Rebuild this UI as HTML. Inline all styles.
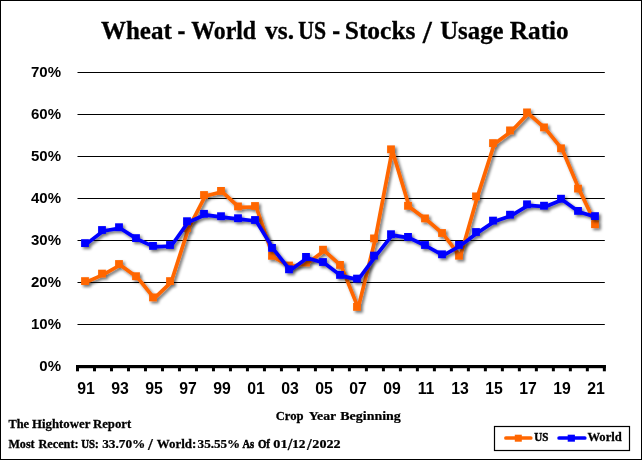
<!DOCTYPE html>
<html><head><meta charset="utf-8"><title>Wheat - World vs. US - Stocks / Usage Ratio</title>
<style>
html,body{margin:0;padding:0;background:#fff;}
svg{display:block;}
.ti{font-family:"Liberation Serif",serif;font-weight:bold;font-size:23.6px;fill:#000;stroke:#000;vector-effect:non-scaling-stroke;}
.ax{font-family:"Liberation Sans",sans-serif;font-weight:bold;font-size:15px;fill:#000;}
.sm{font-family:"Liberation Serif",serif;font-weight:bold;font-size:12.6px;fill:#000;stroke:#000;vector-effect:non-scaling-stroke;}
</style></head><body>
<svg width="642" height="460" viewBox="0 0 642 460">
<defs><filter id="sh" x="-5%" y="-5%" width="110%" height="115%"><feGaussianBlur in="SourceAlpha" stdDeviation="1.4"/><feOffset dx="2.4" dy="2.4" result="b"/><feComponentTransfer><feFuncA type="linear" slope="0.55"/></feComponentTransfer><feMerge><feMergeNode/><feMergeNode in="SourceGraphic"/></feMerge></filter></defs>
<rect x="0" y="0" width="642" height="460" fill="#fff"/>
<rect x="0.5" y="0.5" width="641" height="459" fill="none" stroke="#000" stroke-width="1"/>
<line x1="77.5" y1="72.5" x2="604.8" y2="72.5" stroke="#000" stroke-width="1"/><line x1="77.5" y1="114.5" x2="604.8" y2="114.5" stroke="#000" stroke-width="1"/><line x1="77.5" y1="156.5" x2="604.8" y2="156.5" stroke="#000" stroke-width="1"/><line x1="77.5" y1="198.5" x2="604.8" y2="198.5" stroke="#000" stroke-width="1"/><line x1="77.5" y1="240.5" x2="604.8" y2="240.5" stroke="#000" stroke-width="1"/><line x1="77.5" y1="282.5" x2="604.8" y2="282.5" stroke="#000" stroke-width="1"/><line x1="77.5" y1="324.5" x2="604.8" y2="324.5" stroke="#000" stroke-width="1"/>
<text x="61" y="77.0" text-anchor="end" class="ax">70%</text><text x="61" y="119.0" text-anchor="end" class="ax">60%</text><text x="61" y="161.0" text-anchor="end" class="ax">50%</text><text x="61" y="203.0" text-anchor="end" class="ax">40%</text><text x="61" y="245.0" text-anchor="end" class="ax">30%</text><text x="61" y="287.0" text-anchor="end" class="ax">20%</text><text x="61" y="329.0" text-anchor="end" class="ax">10%</text><text x="61" y="371.0" text-anchor="end" class="ax">0%</text>
<g filter="url(#sh)"><polyline points="86.2,282.1 103.2,274.6 120.2,265.0 137.2,277.2 154.2,298.4 171.2,282.1 188.2,229.1 205.2,196.0 222.2,191.9 239.2,207.4 256.2,207.0 273.2,256.8 290.2,266.5 307.2,263.5 324.2,250.7 341.2,265.9 358.2,307.9 375.2,239.4 392.2,150.3 409.2,206.8 426.2,219.4 443.2,234.0 460.2,256.7 477.2,197.4 494.2,144.1 511.2,131.4 528.2,113.4 545.2,128.4 562.2,149.3 579.2,189.6 596.2,225.2" fill="none" stroke="#FF6600" stroke-width="3.7" stroke-linejoin="round" stroke-linecap="round"/><rect x="81.1" y="277.2" width="7.8" height="7.8" fill="#FF6600"/><rect x="98.1" y="269.7" width="7.8" height="7.8" fill="#FF6600"/><rect x="115.1" y="260.1" width="7.8" height="7.8" fill="#FF6600"/><rect x="132.1" y="272.3" width="7.8" height="7.8" fill="#FF6600"/><rect x="149.1" y="293.5" width="7.8" height="7.8" fill="#FF6600"/><rect x="166.1" y="277.2" width="7.8" height="7.8" fill="#FF6600"/><rect x="183.1" y="224.2" width="7.8" height="7.8" fill="#FF6600"/><rect x="200.1" y="191.1" width="7.8" height="7.8" fill="#FF6600"/><rect x="217.1" y="187.0" width="7.8" height="7.8" fill="#FF6600"/><rect x="234.1" y="202.5" width="7.8" height="7.8" fill="#FF6600"/><rect x="251.1" y="202.1" width="7.8" height="7.8" fill="#FF6600"/><rect x="268.1" y="251.9" width="7.8" height="7.8" fill="#FF6600"/><rect x="285.1" y="261.6" width="7.8" height="7.8" fill="#FF6600"/><rect x="302.1" y="258.6" width="7.8" height="7.8" fill="#FF6600"/><rect x="319.1" y="245.8" width="7.8" height="7.8" fill="#FF6600"/><rect x="336.1" y="261.0" width="7.8" height="7.8" fill="#FF6600"/><rect x="353.1" y="303.0" width="7.8" height="7.8" fill="#FF6600"/><rect x="370.1" y="234.5" width="7.8" height="7.8" fill="#FF6600"/><rect x="387.1" y="145.4" width="7.8" height="7.8" fill="#FF6600"/><rect x="404.1" y="201.9" width="7.8" height="7.8" fill="#FF6600"/><rect x="421.1" y="214.5" width="7.8" height="7.8" fill="#FF6600"/><rect x="438.1" y="229.1" width="7.8" height="7.8" fill="#FF6600"/><rect x="455.1" y="251.8" width="7.8" height="7.8" fill="#FF6600"/><rect x="472.1" y="192.5" width="7.8" height="7.8" fill="#FF6600"/><rect x="489.1" y="139.2" width="7.8" height="7.8" fill="#FF6600"/><rect x="506.1" y="126.5" width="7.8" height="7.8" fill="#FF6600"/><rect x="523.1" y="108.5" width="7.8" height="7.8" fill="#FF6600"/><rect x="540.1" y="123.5" width="7.8" height="7.8" fill="#FF6600"/><rect x="557.1" y="144.4" width="7.8" height="7.8" fill="#FF6600"/><rect x="574.1" y="184.7" width="7.8" height="7.8" fill="#FF6600"/><rect x="591.1" y="220.3" width="7.8" height="7.8" fill="#FF6600"/></g>

<g filter="url(#sh)"><polyline points="86.2,244.1 103.2,231.0 120.2,228.2 137.2,239.1 154.2,246.9 171.2,246.0 188.2,222.2 205.2,214.8 222.2,217.2 239.2,219.2 256.2,221.0 273.2,248.9 290.2,270.3 307.2,257.9 324.2,263.0 341.2,275.9 358.2,279.6 375.2,256.6 392.2,235.2 409.2,237.9 426.2,246.0 443.2,255.3 460.2,245.9 477.2,233.0 494.2,221.6 511.2,215.7 528.2,205.3 545.2,206.7 562.2,199.7 579.2,211.9 596.2,217.1" fill="none" stroke="#0000FF" stroke-width="3.7" stroke-linejoin="round" stroke-linecap="round"/><rect x="81.1" y="239.2" width="7.8" height="7.8" fill="#0000FF"/><rect x="98.1" y="226.1" width="7.8" height="7.8" fill="#0000FF"/><rect x="115.1" y="223.3" width="7.8" height="7.8" fill="#0000FF"/><rect x="132.1" y="234.2" width="7.8" height="7.8" fill="#0000FF"/><rect x="149.1" y="242.0" width="7.8" height="7.8" fill="#0000FF"/><rect x="166.1" y="241.1" width="7.8" height="7.8" fill="#0000FF"/><rect x="183.1" y="217.3" width="7.8" height="7.8" fill="#0000FF"/><rect x="200.1" y="209.9" width="7.8" height="7.8" fill="#0000FF"/><rect x="217.1" y="212.3" width="7.8" height="7.8" fill="#0000FF"/><rect x="234.1" y="214.3" width="7.8" height="7.8" fill="#0000FF"/><rect x="251.1" y="216.1" width="7.8" height="7.8" fill="#0000FF"/><rect x="268.1" y="244.0" width="7.8" height="7.8" fill="#0000FF"/><rect x="285.1" y="265.4" width="7.8" height="7.8" fill="#0000FF"/><rect x="302.1" y="253.0" width="7.8" height="7.8" fill="#0000FF"/><rect x="319.1" y="258.1" width="7.8" height="7.8" fill="#0000FF"/><rect x="336.1" y="271.0" width="7.8" height="7.8" fill="#0000FF"/><rect x="353.1" y="274.7" width="7.8" height="7.8" fill="#0000FF"/><rect x="370.1" y="251.7" width="7.8" height="7.8" fill="#0000FF"/><rect x="387.1" y="230.3" width="7.8" height="7.8" fill="#0000FF"/><rect x="404.1" y="233.0" width="7.8" height="7.8" fill="#0000FF"/><rect x="421.1" y="241.1" width="7.8" height="7.8" fill="#0000FF"/><rect x="438.1" y="250.4" width="7.8" height="7.8" fill="#0000FF"/><rect x="455.1" y="241.0" width="7.8" height="7.8" fill="#0000FF"/><rect x="472.1" y="228.1" width="7.8" height="7.8" fill="#0000FF"/><rect x="489.1" y="216.7" width="7.8" height="7.8" fill="#0000FF"/><rect x="506.1" y="210.8" width="7.8" height="7.8" fill="#0000FF"/><rect x="523.1" y="200.4" width="7.8" height="7.8" fill="#0000FF"/><rect x="540.1" y="201.8" width="7.8" height="7.8" fill="#0000FF"/><rect x="557.1" y="194.8" width="7.8" height="7.8" fill="#0000FF"/><rect x="574.1" y="207.0" width="7.8" height="7.8" fill="#0000FF"/><rect x="591.1" y="212.2" width="7.8" height="7.8" fill="#0000FF"/></g>

<rect x="76" y="365" width="529.8" height="3.2" fill="#000"/>
<rect x="76.00" y="365" width="3" height="6.3" fill="#000"/><rect x="93.00" y="365" width="3" height="6.3" fill="#000"/><rect x="109.99" y="365" width="3" height="6.3" fill="#000"/><rect x="126.99" y="365" width="3" height="6.3" fill="#000"/><rect x="143.98" y="365" width="3" height="6.3" fill="#000"/><rect x="160.98" y="365" width="3" height="6.3" fill="#000"/><rect x="177.97" y="365" width="3" height="6.3" fill="#000"/><rect x="194.97" y="365" width="3" height="6.3" fill="#000"/><rect x="211.96" y="365" width="3" height="6.3" fill="#000"/><rect x="228.96" y="365" width="3" height="6.3" fill="#000"/><rect x="245.95" y="365" width="3" height="6.3" fill="#000"/><rect x="262.95" y="365" width="3" height="6.3" fill="#000"/><rect x="279.94" y="365" width="3" height="6.3" fill="#000"/><rect x="296.94" y="365" width="3" height="6.3" fill="#000"/><rect x="313.93" y="365" width="3" height="6.3" fill="#000"/><rect x="330.93" y="365" width="3" height="6.3" fill="#000"/><rect x="347.92" y="365" width="3" height="6.3" fill="#000"/><rect x="364.92" y="365" width="3" height="6.3" fill="#000"/><rect x="381.91" y="365" width="3" height="6.3" fill="#000"/><rect x="398.91" y="365" width="3" height="6.3" fill="#000"/><rect x="415.90" y="365" width="3" height="6.3" fill="#000"/><rect x="432.90" y="365" width="3" height="6.3" fill="#000"/><rect x="449.89" y="365" width="3" height="6.3" fill="#000"/><rect x="466.89" y="365" width="3" height="6.3" fill="#000"/><rect x="483.88" y="365" width="3" height="6.3" fill="#000"/><rect x="500.88" y="365" width="3" height="6.3" fill="#000"/><rect x="517.87" y="365" width="3" height="6.3" fill="#000"/><rect x="534.87" y="365" width="3" height="6.3" fill="#000"/><rect x="551.86" y="365" width="3" height="6.3" fill="#000"/><rect x="568.86" y="365" width="3" height="6.3" fill="#000"/><rect x="585.85" y="365" width="3" height="6.3" fill="#000"/><rect x="602.85" y="365" width="3" height="6.3" fill="#000"/>
<text x="86.0" y="393.6" text-anchor="middle" class="ax" style="font-size:15.8px">91</text><text x="120.0" y="393.6" text-anchor="middle" class="ax" style="font-size:15.8px">93</text><text x="154.0" y="393.6" text-anchor="middle" class="ax" style="font-size:15.8px">95</text><text x="188.0" y="393.6" text-anchor="middle" class="ax" style="font-size:15.8px">97</text><text x="222.0" y="393.6" text-anchor="middle" class="ax" style="font-size:15.8px">99</text><text x="256.0" y="393.6" text-anchor="middle" class="ax" style="font-size:15.8px">01</text><text x="290.0" y="393.6" text-anchor="middle" class="ax" style="font-size:15.8px">03</text><text x="324.0" y="393.6" text-anchor="middle" class="ax" style="font-size:15.8px">05</text><text x="358.0" y="393.6" text-anchor="middle" class="ax" style="font-size:15.8px">07</text><text x="392.0" y="393.6" text-anchor="middle" class="ax" style="font-size:15.8px">09</text><text x="426.0" y="393.6" text-anchor="middle" class="ax" style="font-size:15.8px">11</text><text x="460.0" y="393.6" text-anchor="middle" class="ax" style="font-size:15.8px">13</text><text x="494.0" y="393.6" text-anchor="middle" class="ax" style="font-size:15.8px">15</text><text x="528.0" y="393.6" text-anchor="middle" class="ax" style="font-size:15.8px">17</text><text x="562.0" y="393.6" text-anchor="middle" class="ax" style="font-size:15.8px">19</text><text x="596.0" y="393.6" text-anchor="middle" class="ax" style="font-size:15.8px">21</text>
<rect x="494.5" y="426.5" width="135" height="24" fill="#fff" stroke="#000" stroke-width="1.2"/>
<line x1="505.9" y1="438" x2="530.8" y2="438" stroke="#FF6600" stroke-width="3.7" stroke-linecap="round"/>
<rect x="514.8" y="434.7" width="7" height="7" fill="#FF6600"/>
<line x1="559.1" y1="438" x2="584.8" y2="438" stroke="#0000FF" stroke-width="3.7" stroke-linecap="round"/>
<rect x="567.7" y="434.7" width="7.2" height="7" fill="#0000FF"/>
<text transform="matrix(1.0609 0 0 1.0400 100.90 38.50)" class="ti" stroke-width="0.30">Wheat</text>
<text transform="matrix(1.0050 0 0 1.2655 177.56 39.60)" class="ti" stroke-width="0.30">-</text>
<text transform="matrix(1.0104 0 0 1.0400 191.20 38.50)" class="ti" stroke-width="0.30">World</text>
<text transform="matrix(1.0747 0 0 1.0400 265.10 38.50)" class="ti" stroke-width="0.30">vs.</text>
<text transform="matrix(0.9188 0 0 1.0400 298.26 38.50)" class="ti" stroke-width="0.43">US</text>
<text transform="matrix(1.0050 0 0 1.2655 332.16 39.60)" class="ti" stroke-width="0.30">-</text>
<text transform="matrix(1.0807 0 0 1.0400 344.70 38.50)" class="ti" stroke-width="0.30">Stocks</text>
<text transform="matrix(1.3831 0 0 1.3436 422.71 43.30)" class="ti" stroke-width="0.30">/</text>
<text transform="matrix(1.0502 0 0 1.0400 440.21 38.50)" class="ti" stroke-width="0.30">Usage</text>
<text transform="matrix(1.0695 0 0 1.0400 509.81 38.50)" class="ti" stroke-width="0.30">Ratio</text>
<text transform="matrix(0.9839 0 0 1.0300 8.41 427.90)" class="sm" stroke-width="0.28">The</text>
<text transform="matrix(1.0190 0 0 1.0300 32.00 427.90)" class="sm" stroke-width="0.25">Hightower</text>
<text transform="matrix(1.0152 0 0 1.0300 92.90 427.90)" class="sm" stroke-width="0.25">Report</text>
<text transform="matrix(0.9622 0 0 1.0300 8.41 447.90)" class="sm" stroke-width="0.31">Most</text>
<text transform="matrix(0.9742 0 0 1.0300 38.41 447.90)" class="sm" stroke-width="0.29">Recent:</text>
<text transform="matrix(0.8604 0 0 1.0300 81.13 447.90)" class="sm" stroke-width="0.47">US:</text>
<text transform="matrix(1.0565 0 0 1.0300 102.18 447.90)" class="sm" stroke-width="0.25">33.70%</text>
<text transform="matrix(1.3968 0 0 1.3160 148.08 449.94)" class="sm" stroke-width="0.25">/</text>
<text transform="matrix(1.0279 0 0 1.0300 156.70 447.90)" class="sm" stroke-width="0.25">World:</text>
<text transform="matrix(1.0413 0 0 1.0300 197.59 447.90)" class="sm" stroke-width="0.25">35.55%</text>
<text transform="matrix(0.8391 0 0 1.0300 242.40 447.90)" class="sm" stroke-width="0.51">As</text>
<text transform="matrix(0.8640 0 0 1.0300 257.89 447.90)" class="sm" stroke-width="0.47">Of</text>
<text transform="matrix(1.1364 0 0 1.0300 273.35 447.90)" class="sm" stroke-width="0.25">01</text>
<text transform="matrix(1.3206 0 0 1.3276 287.66 450.14)" class="sm" stroke-width="0.25">/</text>
<text transform="matrix(1.0604 0 0 1.0300 292.16 447.90)" class="sm" stroke-width="0.25">12</text>
<text transform="matrix(1.3460 0 0 1.3276 307.06 450.14)" class="sm" stroke-width="0.25">/</text>
<text transform="matrix(1.1224 0 0 1.0300 312.36 447.90)" class="sm" stroke-width="0.25">2022</text>
<text transform="matrix(1.0049 0 0 1.0300 275.71 420.40)" class="sm" stroke-width="0.25">Crop</text>
<text transform="matrix(1.0959 0 0 1.0300 308.68 420.40)" class="sm" stroke-width="0.25">Year</text>
<text transform="matrix(1.1080 0 0 1.0300 340.28 420.40)" class="sm" stroke-width="0.25">Beginning</text>
<text transform="matrix(0.8767 0 0 1.0300 534.23 440.80)" class="sm" stroke-width="0.45">US</text>
<text transform="matrix(1.0033 0 0 1.0300 587.40 440.80)" class="sm" stroke-width="0.25">World</text>

</svg>
</body></html>
